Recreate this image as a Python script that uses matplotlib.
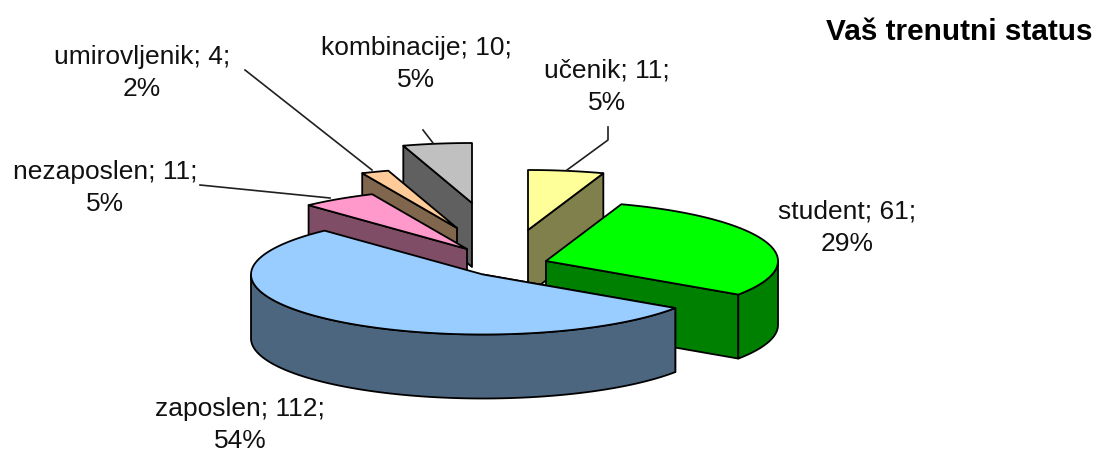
import numpy as np
import matplotlib
matplotlib.use('Agg')
import matplotlib.pyplot as plt

categories = ['učenik', 'student', 'zaposlen', 'nezaposlen', 'umirovljenik', 'kombinacije']
values = [11, 61, 112, 11, 4, 10]
title = 'Vaš trenutni status'

# layout is in image pixels
top_colors = ['#FFFF99', '#00FF00', '#99CCFF', '#FF99CC', '#FFCC99', '#C0C0C0']
side_colors = ['#80804D', '#008000', '#4D6680', '#804D66', '#80664D', '#606060']
apex_x = [528, 546, 483, 467, 457, 472]
apex_y = [230, 261, 274.5, 249, 228, 203]
label_x = [607, 847, 240, 105, 142, 416]
label_y = [87, 228, 425, 188, 73, 64]
leaders = [[(608, 127), (608, 140), (567, 170)],
           [],
           [],
           [(200, 185), (330, 198)],
           [(245, 70), (372, 170)],
           [(423, 130), (433, 143)]]
draw_order = [5, 4, 0, 3, 1, 2]
rx = 232
ry = 60
depth = 64

plt.rcParams['font.family'] = ['Liberation Sans', 'DejaVu Sans']

fig = plt.figure(figsize=(10.96, 4.53), dpi=100)
ax = fig.add_axes([0, 0, 1, 1])
ax.set_xlim(0, 1096)
ax.set_ylim(453, 0)
ax.axis('off')

total = sum(values)
edges = np.cumsum([0] + values) / total * 2 * np.pi


def rim(cx, cy, t):
    return cx + rx * np.sin(t), cy - ry * np.cos(t)


def face(xs, ys, color):
    ax.fill(xs, ys, facecolor=color, edgecolor='black', linewidth=1.3, joinstyle='round')


for i in draw_order:
    cx, cy = apex_x[i], apex_y[i]
    t1, t2 = edges[i], edges[i + 1]

    # only the radial wall that faces the viewer
    wall = t2 if (t1 + t2) / 2 < np.pi else t1
    x, y = rim(cx, cy, wall)
    face([cx, x, x, cx], [cy, y, y + depth, cy + depth], side_colors[i])

    # outer wall, only the part facing the viewer
    a, b = max(t1, np.pi / 2), min(t2, 3 * np.pi / 2)
    if a < b:
        t = np.linspace(a, b, 80)
        x, y = rim(cx, cy, t)
        face(np.r_[x, x[::-1]], np.r_[y, y[::-1] + depth], side_colors[i])

    t = np.linspace(t1, t2, 120)
    x, y = rim(cx, cy, t)
    face(np.r_[cx, x], np.r_[cy, y], top_colors[i])

for line in leaders:
    if line:
        xs, ys = zip(*line)
        ax.plot(xs, ys, color='#202020', linewidth=1.2)

for i, name in enumerate(categories):
    pct = round(values[i] / total * 100)
    ax.text(label_x[i], label_y[i], f'{name}; {values[i]};\n{pct}%', ha='center', va='center',
            fontsize=19, color='#111111', linespacing=1.45)

ax.text(1093, 32, title, ha='right', va='center', fontsize=21.4, fontweight='bold', color='black')

fig.savefig('out.png', dpi=100)
